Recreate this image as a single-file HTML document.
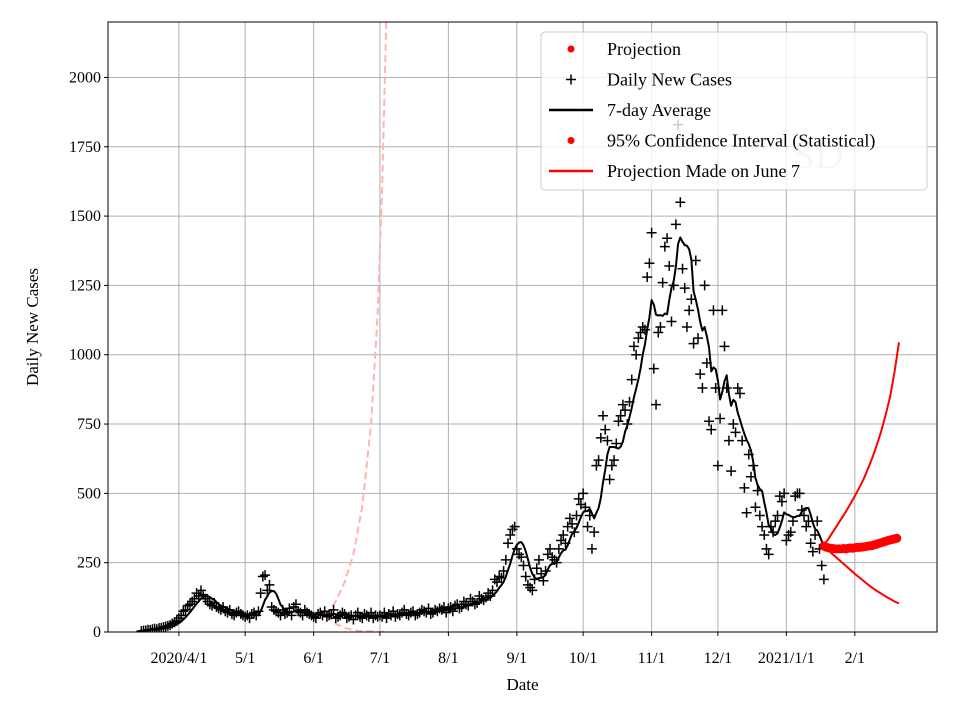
<!DOCTYPE html>
<html><head><meta charset="utf-8"><style>
html,body{margin:0;padding:0;background:#fff;}
svg{display:block;font-family:"Liberation Serif",serif;}
</style></head><body>
<svg id="chart" width="960" height="720" xmlns="http://www.w3.org/2000/svg">
<rect width="960" height="720" fill="#fff"/>
<g id="grid"></g>
<g id="marks"></g>
<g id="axes"></g>
<text x="818" y="168" font-size="40" fill="#cfcfcf" text-anchor="middle">SD</text>
<g id="legend"></g>
</svg>
<script>
// ---- data ----
const caseStartDay = 14; // days since 2020-03-01 (Mar 15)
const dailyCases = [
3,5,6,8,7,10,12,10,14,15,18,20,22,25,30,35,40,
50,60,75,80,95,100,110,120,140,130,150,135,120,110,100,95,105,90,85,80,90,75,70,80,65,60,70,75,65,60,
55,60,50,65,70,60,75,140,200,205,150,170,90,80,75,70,60,80,65,70,85,60,90,100,75,70,60,80,70,65,60,
55,50,65,70,60,75,55,60,65,80,50,55,60,70,65,50,55,60,45,60,70,55,50,65,60,55,70,50,60,55,
60,55,70,50,65,60,75,55,65,60,70,80,65,60,70,75,60,65,70,80,75,70,85,65,70,80,75,85,80,90,70,
85,90,75,95,100,85,90,110,100,95,120,110,100,105,130,120,115,125,140,130,150,190,180,200,195,220,260,320,350,370,380,
300,280,270,240,200,170,160,150,190,230,260,210,185,220,280,300,270,260,250,300,330,350,320,380,410,390,360,420,480,460,
500,450,380,420,300,360,600,620,700,780,730,690,550,600,620,680,760,780,820,800,750,830,910,1030,1000,1060,1080,1100,1090,1280,1330,
1440,950,820,1080,1100,1260,1390,1420,1320,1120,1250,1470,1830,1550,1310,1240,1100,1160,1200,1040,1340,1060,930,880,1250,970,760,730,1160,880,
600,770,1160,1030,880,690,580,750,720,880,860,690,520,430,640,560,600,450,510,420,380,350,300,280,380,360,400,420,490,470,500,
330,350,360,400,490,500,500,440,420,380,400,320,290,350,400,300,240,190
];
const projStartDay = 323; // Jan 18 2021
const projection = [310,306,304,302,301,300,300,300,300,301,300,302,303,302,304,305,305,306,307,308,310,311,312,315,317,320,322,325,327,330,332,334,336,338];
const ciDays = [323,325,327,329,331,333,335,337,339,341,343,345,347,349,351,353,355,357];
const ciUpper = [313,335,360,385,410,435,462,490,520,552,590,630,675,725,785,850,940,1045];
const ciLower = [313,296,280,266,252,238,224,210,197,184,171,159,148,138,128,119,110,103];
const juneDays = [98,102,106,110,114,118,121,123,125.5];
const juneUpper = [60,110,180,280,450,750,1150,1600,2400];
const juneMid = [60,60,60,59,60,60,60,60,60];
const juneLower = [60,30,15,7,3,2,1,1,1];
const yTicks = [0,250,500,750,1000,1250,1500,1750,2000];
const xTickDays = [31,61,92,122,153,184,214,245,275,306,337];
const xTickLabels = ["2020/4/1","5/1","6/1","7/1","8/1","9/1","10/1","11/1","12/1","2021/1/1","2/1"];

// ---- scales ----
const L=108,R=937,T=22,B=632;
const xs = d => L + (d - (-1.1)) / (374.2 + 1.1) * (R - L);
const ys = v => B - v / 2200 * (B - T);
const NS="http://www.w3.org/2000/svg";
function mk(tag, attrs, parent){const e=document.createElementNS(NS,tag);for(const k in attrs)e.setAttribute(k,attrs[k]);parent.appendChild(e);return e;}
const grid=document.getElementById('grid'),marks=document.getElementById('marks'),axes=document.getElementById('axes'),legend=document.getElementById('legend');

const defs=mk('defs',{},document.getElementById('chart'));
const cp=mk('clipPath',{id:'plotclip'},defs);mk('rect',{x:L,y:T,width:R-L,height:B-T},cp);
marks.setAttribute('clip-path','url(#plotclip)');

yTicks.forEach(v=>{
  const y=ys(v);
  const g=mk('line',{x1:L,x2:R,y1:y,y2:y,stroke:'#b0b0b0','stroke-width':1},grid);
  
  
  mk('line',{x1:L-4,x2:L,y1:y,y2:y,stroke:'#000','stroke-width':1},axes);
  const t=mk('text',{x:L-7,y:y+5,'font-size':16,'text-anchor':'end'},axes);t.textContent=v;
  
  
});
xTickDays.forEach((d,i)=>{
  const x=xs(d);
  const g=mk('line',{x1:x,x2:x,y1:T,y2:B,stroke:'#b0b0b0','stroke-width':1},grid);
  
  
  mk('line',{x1:x,x2:x,y1:B,y2:B+4,stroke:'#000','stroke-width':1},axes);
  const t=mk('text',{x:x,y:B+31,'font-size':16,'text-anchor':'middle'},axes);t.textContent=xTickLabels[i];
  
  
});
const frame=mk('rect',{x:L,y:T,width:R-L,height:B-T,fill:'none',stroke:'#000','stroke-width':1},axes);


const xl=mk('text',{x:(L+R)/2,y:690,'font-size':17,'text-anchor':'middle'},axes);xl.textContent='Date';


const yl=mk('text',{x:0,y:0,'font-size':17,'text-anchor':'middle',transform:`translate(38,${(T+B)/2}) rotate(-90)`},axes);yl.textContent='Daily New Cases';



function pathFrom(days,vals){return days.map((d,i)=>(i?'L':'M')+xs(d).toFixed(1)+','+ys(vals[i]).toFixed(1)).join(' ');}
[[juneUpper,'june-upper-bound'],[juneMid,'june-projection'],[juneLower,'june-lower-bound']].forEach(([arr,n])=>{
  const p=mk('path',{d:pathFrom(juneDays,arr),fill:'none',stroke:'#ffb3b3','stroke-width':2,'stroke-dasharray':'7,4'},marks);
  
  
});

dailyCases.forEach((v,i)=>{
  const x=xs(caseStartDay+i),y=ys(v);
  const p=mk('path',{d:`M${x-5},${y}H${x+5}M${x},${y-5}V${y+5}`,stroke:'#000','stroke-width':1.5},marks);
  
  
});

let avgD='';
for(let i=6;i<dailyCases.length;i++){
  let s=0;for(let k=i-6;k<=i;k++)s+=dailyCases[k];
  avgD+=(i===6?'M':'L')+xs(caseStartDay+i).toFixed(1)+','+ys(s/7).toFixed(1);
}
const avg=mk('path',{d:avgD,fill:'none',stroke:'#000','stroke-width':2,'stroke-linejoin':'round'},marks);



[[ciUpper,'ci-upper-line'],[ciLower,'ci-lower-line']].forEach(([arr,n])=>{
  const p=mk('path',{d:pathFrom(ciDays,arr),fill:'none',stroke:'#ff0000','stroke-width':2,'stroke-linejoin':'round'}, marks);
  
  
});
projection.forEach((v,i)=>{
  const c=mk('circle',{cx:xs(projStartDay+i),cy:ys(v),r:4.5,fill:'#ff0000'},marks);
  
  
});

const lb=mk('rect',{x:541,y:32,width:386,height:158,rx:4,fill:'rgba(255,255,255,0.8)',stroke:'#cccccc','stroke-width':1},legend);


const entries=[['dot','#ff0000','Projection'],['plus','#000','Daily New Cases'],['line','#000','7-day Average'],['dot','#ff0000','95% Confidence Interval (Statistical)'],['line','#ff0000','Projection Made on June 7']];
entries.forEach((e,i)=>{
  const y=49+i*30.5;
  const g=mk('g',{},legend);
  
  
  if(e[0]==='dot')mk('circle',{cx:571,cy:y,r:3.5,fill:e[1]},g);
  else if(e[0]==='plus')mk('path',{d:`M566,${y}H576M571,${y-5}V${y+5}`,stroke:e[1],'stroke-width':1.5},g);
  else mk('line',{x1:549,x2:593,y1:y,y2:y,stroke:e[1],'stroke-width':2.5},g);
  const t=mk('text',{x:607,y:y+6,'font-size':18},g);t.textContent=e[2];
});
</script>
</body></html>
